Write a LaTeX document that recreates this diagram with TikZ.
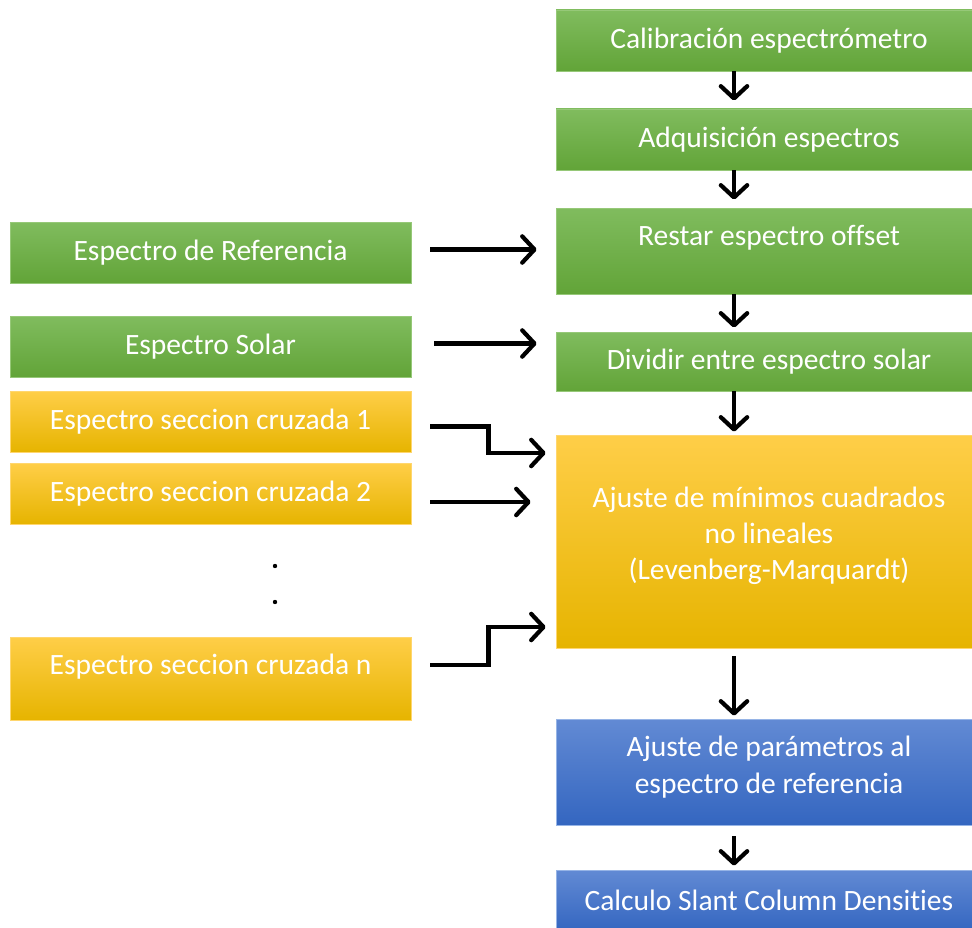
\documentclass[tikz,border=0pt]{standalone}
\usepackage{fontspec}
\setmainfont{Carlito}[Ligatures=NoCommon]
\usetikzlibrary{arrows.meta,calc}

\definecolor{verdeA}{RGB}{128,188,94}
\definecolor{verdeB}{RGB}{98,164,56}
\definecolor{verdeL}{RGB}{150,200,120}
\definecolor{naranjaA}{RGB}{255,206,72}
\definecolor{naranjaM}{RGB}{255,193,10}
\definecolor{naranjaB}{RGB}{230,180,0}
\definecolor{naranjaL}{RGB}{255,214,110}
\definecolor{azulA}{RGB}{98,138,212}
\definecolor{azulB}{RGB}{52,102,192}
\definecolor{azulL}{RGB}{150,180,230}

\begin{document}
\begin{tikzpicture}[x=0.02cm, y=-0.02cm,
    >={Straight Barb[length=7pt,width=15pt,round]},
    caja/.style={rectangle, minimum width=8.52cm, minimum height=1.22cm,
      inner sep=0pt, align=center, text=white,
      font=\fontsize{16.8}{20.7}\selectfont, line width=0.5pt},
    izq/.style={caja, minimum width=8.02cm},
    verde/.style={top color=verdeA, bottom color=verdeB, draw=verdeL},
    naranja/.style={top color=naranjaA, middle color=naranjaM,
      bottom color=naranjaB, draw=naranjaL},
    azul/.style={top color=azulA, bottom color=azulB, draw=azulL},
    flecha/.style={->, line width=2.4pt}]
  \useasboundingbox (0,0) rectangle (972,928);

  % columna derecha (cortada por el borde derecho)
  \node[caja, verde] (calib) at (769,40.5) {Calibración espectrómetro};
  \node[caja, verde] (adq) at (769,139.5) {Adquisición espectros};
  \node[caja, verde, minimum height=1.72cm, text depth=18pt] (restar) at (769,251) {Restar espectro offset};
  \node[caja, verde, minimum height=1.18cm] (dividir) at (769,361.5) {Dividir entre espectro solar};
  \node[caja, naranja, minimum height=4.26cm, text depth=9.5pt] (ajuste) at (769,541.5)
    {Ajuste de mínimos cuadrados\\no lineales\\(Levenberg-Marquardt)};
  \node[caja, azul, minimum height=2.12cm, text depth=8.3pt] (param) at (769,772)
    {Ajuste de parámetros al\\espectro de referencia};
  \node[caja, azul] (scd) at (769,900.5) {Calculo Slant Column Densities};

  % columna izquierda
  \node[izq, verde] (ref) at (210.5,252.5) {Espectro de Referencia};
  \node[izq, verde] (solar) at (210.5,346.5) {Espectro Solar};
  \node[izq, naranja] (sec1) at (210.5,421.5) {Espectro seccion cruzada 1};
  \node[izq, naranja] (sec2) at (210.5,493.5) {Espectro seccion cruzada 2};
  \node[izq, naranja, minimum height=1.66cm, text depth=16.3pt] (secn) at (210.5,678.5) {Espectro seccion cruzada n};

  \fill (275,566) circle (2.2);
  \fill (275,602) circle (2.2);

  % flechas verticales (corridas a la izquierda del centro)
  \draw[flecha] ($(calib.south)+(-35,0)$) -- ($(adq.north)+(-35,-8)$);
  \draw[flecha] ($(adq.south)+(-35,0)$) -- ($(restar.north)+(-35,-8)$);
  \draw[flecha] ($(restar.south)+(-35,0)$) -- ($(dividir.north)+(-35,-4)$);
  \draw[flecha] ($(dividir.south)+(-35,0)$) -- ($(ajuste.north)+(-35,-3)$);
  \draw[flecha] ($(ajuste.south)+(-35,8)$) -- ($(param.north)+(-35,-3)$);
  \draw[flecha] ($(param.south)+(-35,11)$) -- ($(scd.north)+(-35,-4)$);

  % flechas horizontales
  \draw[flecha] ($(ref.east)+(19,-3)$) -- ($(restar.west |- ref.east)+(-19,-3)$);
  \draw[flecha] ($(solar.east)+(23,-3)$) -- ($(dividir.west |- solar.east)+(-19,-3)$);
  \draw[flecha] ($(sec1.east)+(19,5)$) -- ++(58,0) |- ($(ajuste.west)+(-10,-88.5)$);
  \draw[flecha] ($(sec2.east)+(19,8.5)$) -- ($(ajuste.west |- sec2.east)+(-25,8.5)$);
  \draw[flecha] ($(secn.east)+(19,-13.5)$) -- ++(58,0) |- ($(ajuste.west)+(-10,85.5)$);
\end{tikzpicture}
\end{document}
